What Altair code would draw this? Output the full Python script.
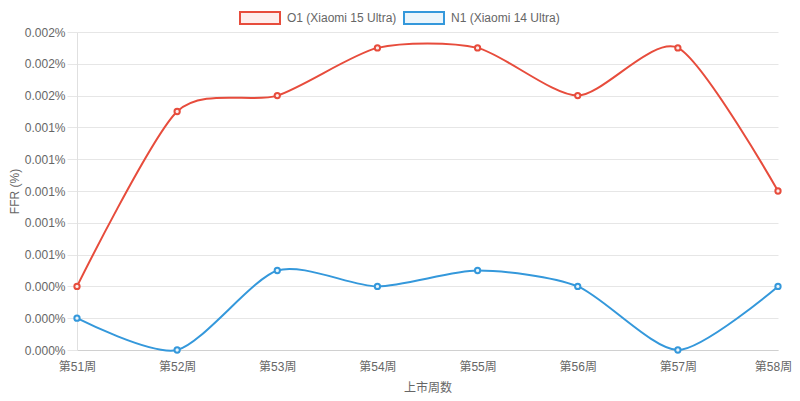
import altair as alt
import pandas as pd

weeks = ["第51周", "第52周", "第53周", "第54周", "第55周", "第56周", "第57周", "第58周"]
series_names = ["O1 (Xiaomi 15 Ultra)", "N1 (Xiaomi 14 Ultra)"]
o1_values = [0.0004, 0.0015, 0.0016, 0.0019, 0.0019, 0.0016, 0.0019, 0.0010]
n1_values = [0.0002, 0.0000, 0.0005, 0.0004, 0.0005, 0.0004, 0.0000, 0.0004]
y_ticks = [0.0, 0.0002, 0.0004, 0.0006, 0.0008, 0.0010, 0.0012, 0.0014, 0.0016, 0.0018, 0.0020]

line_colors = ["#e74c3c", "#3498db"]
fill_colors = ["#fdedec", "#ebf5fb"]

rows = []
for s, vals in zip(series_names, [o1_values, n1_values]):
    for w, v in zip(weeks, vals):
        rows.append({"week": w, "series": s, "ffr": v})
df = pd.DataFrame(rows)

FONT = "Liberation Sans, Arial, Noto Sans CJK SC"

x_enc = alt.X(
    "week:N",
    sort=weeks,
    scale=alt.Scale(type="point", padding=0),
    axis=alt.Axis(
        title="上市周数",
        labelAngle=0,
        grid=False,
        ticks=False,
        labelPadding=11,
        titlePadding=10,
        domainColor="#d0d0d0",
        labelOffset={"condition": {"test": "datum.value === '第58周'", "value": -5}, "value": 0},
    ),
)
y_enc = alt.Y(
    "ffr:Q",
    scale=alt.Scale(domain=[0, 0.002], nice=False),
    axis=alt.Axis(
        title="FFR (%)",
        values=y_ticks,
        labelExpr="format(datum.value, '.3f') + '%'",
        ticks=True,
        tickSize=10,
        tickColor="#e6e6e6",
        labelPadding=2,
        titlePadding=3,
        gridColor="#e6e6e6",
        domainColor="#e0e0e0",
    ),
)

stroke_scale = alt.Scale(domain=series_names, range=line_colors)
fill_scale = alt.Scale(domain=series_names, range=fill_colors)

legend = alt.Legend(title=None, orient="none", legendX=162, legendY=-35)

base = alt.Chart(df)

lines = base.mark_line(interpolate="cardinal", tension=0.25, strokeWidth=2).encode(
    x=x_enc,
    y=y_enc,
    stroke=alt.Stroke("series:N", scale=stroke_scale, legend=legend),
    detail="series:N",
)

points = base.mark_point(shape="circle", filled=False, size=28, strokeWidth=2, opacity=1).encode(
    x=x_enc,
    y=y_enc,
    stroke=alt.Stroke("series:N", scale=stroke_scale, legend=legend),
    fill=alt.Fill("series:N", scale=fill_scale, legend=legend),
)

chart = (
    alt.layer(lines, points)
    .properties(
        width=701,
        height=318,
        padding={"left": 69, "top": 24, "right": 14, "bottom": 46},
        autosize=alt.AutoSizeParams(type="none"),
    )
    .configure_view(stroke=None)
    .configure_axis(
        labelFont=FONT,
        titleFont=FONT,
        labelFontSize=12,
        titleFontSize=12,
        labelColor="#666666",
        titleColor="#666666",
        titleFontWeight="normal",
    )
    .configure_legend(
        direction="horizontal",
        symbolType="M-1,-0.3H1V0.3H-1Z",
        symbolSize=1600,
        symbolStrokeWidth=2,
        symbolOpacity=1,
        labelFontSize=12,
        labelColor="#666666",
        labelFont=FONT,
        labelOffset=6,
        columnPadding=3,
    )
)

chart.save("out.html", embed_options={"renderer": "svg", "actions": False})
